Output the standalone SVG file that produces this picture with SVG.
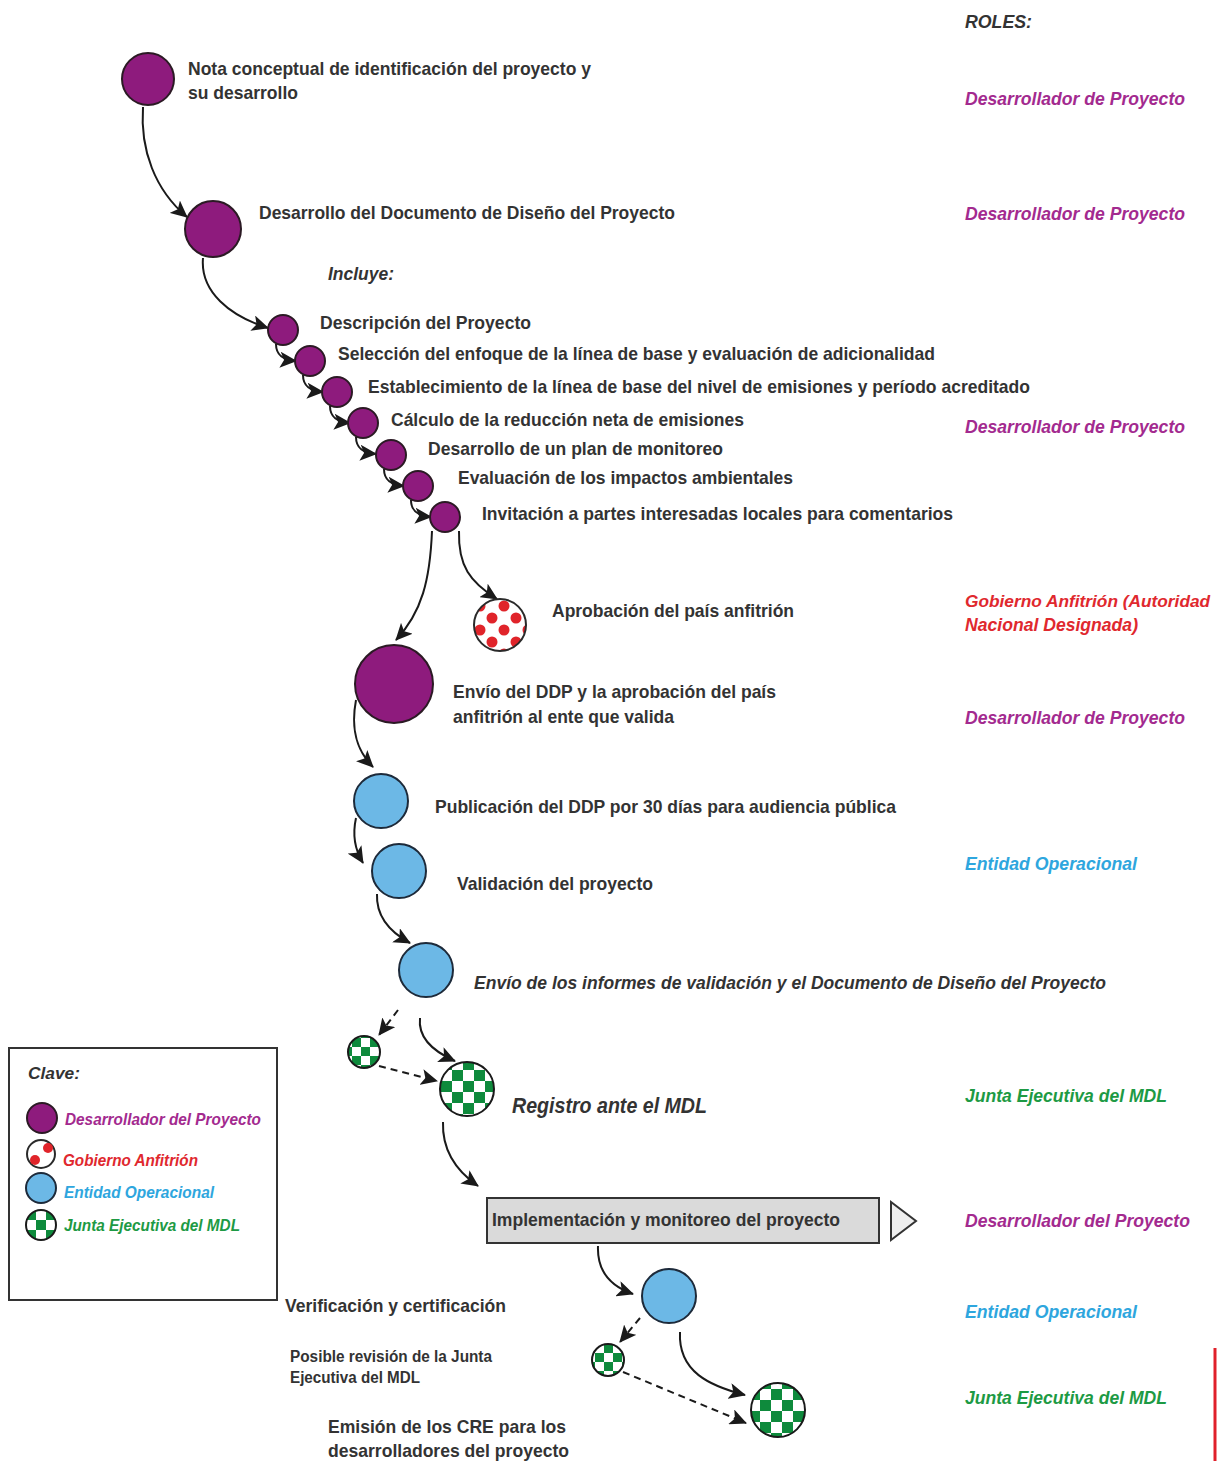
<svg xmlns="http://www.w3.org/2000/svg" width="1217" height="1461" viewBox="0 0 1217 1461">
<style>
.t{font-family:"Liberation Sans",Arial,sans-serif;font-weight:bold;font-size:19px;fill:#333;}
.ti{font-family:"Liberation Sans",Arial,sans-serif;font-weight:bold;font-style:italic;font-size:19px;fill:#333;}
.ts{font-family:"Liberation Sans",Arial,sans-serif;font-weight:bold;font-size:16px;fill:#333;}
.r{font-family:"Liberation Sans",Arial,sans-serif;font-weight:bold;font-style:italic;font-size:19px;}
.lg{font-family:"Liberation Sans",Arial,sans-serif;font-weight:bold;font-style:italic;font-size:17px;}
.pu{fill:#a32a8f;}
.rd{fill:#e0282e;}
.bl{fill:#2ea6de;}
.gr{fill:#1d9a44;}
.cp{fill:#8e1b7d;stroke:#2b1a24;stroke-width:2;}
.cb{fill:#6cb8e6;stroke:#1d2a3a;stroke-width:2;}
.cr{fill:url(#dots);stroke:#2a2a2a;stroke-width:2;}
.cg{fill:url(#check);stroke:#1a1a1a;stroke-width:2;}
.cgs{fill:url(#checks);stroke:#1a1a1a;stroke-width:2;}
.c{fill:none;stroke:#1a1a1a;stroke-width:2;marker-end:url(#ah);}
.d{fill:none;stroke:#1a1a1a;stroke-width:2;stroke-dasharray:7 5;marker-end:url(#ah);}
</style>
<defs>
<marker id="ah" markerUnits="userSpaceOnUse" markerWidth="18" markerHeight="16" refX="16" refY="8" orient="auto">
<path d="M0,0 L17,8 L0,16 L4,8 Z" fill="#1a1a1a"/>
</marker>
<pattern id="dots" patternUnits="userSpaceOnUse" x="474" y="600" width="24" height="24">
<rect width="24" height="24" fill="#fff"/>
<circle cx="6" cy="6" r="5.5" fill="#e0242a"/>
<circle cx="18" cy="18" r="5.5" fill="#e0242a"/>
</pattern>
<pattern id="check" patternUnits="userSpaceOnUse" x="1" y="3" width="22" height="22">
<rect width="22" height="22" fill="#fff"/>
<rect width="11" height="11" fill="#0e8a3c"/>
<rect x="11" y="11" width="11" height="11" fill="#0e8a3c"/>
</pattern>
<pattern id="checks" patternUnits="userSpaceOnUse" x="1" y="3" width="18" height="18">
<rect width="18" height="18" fill="#fff"/>
<rect width="9" height="9" fill="#0e8a3c"/>
<rect x="9" y="9" width="9" height="9" fill="#0e8a3c"/>
</pattern>
<pattern id="checkl" patternUnits="userSpaceOnUse" x="26" y="1210" width="20" height="20">
<rect width="20" height="20" fill="#fff"/>
<rect width="10" height="10" fill="#0e8a3c"/>
<rect x="10" y="10" width="10" height="10" fill="#0e8a3c"/>
</pattern>
</defs>

<g id="connectors">
<path class="c" d="M143,107 C140,150 155,190 187,217"/>
<path class="c" d="M203,258 C200,292 230,316 268,328"/>
<path class="c" d="M276,344 C276,356 284,360 296,361"/>
<path class="c" d="M303,375 C303,387 311,391 323,392"/>
<path class="c" d="M330,406 C330,418 338,422 350,423"/>
<path class="c" d="M356,437 C356,449 364,453 376,454"/>
<path class="c" d="M384,469 C384,481 392,485 404,486"/>
<path class="c" d="M411,500 C411,512 419,516 431,517"/>
<path class="c" d="M432,531 C430,580 422,612 396,640"/>
<path class="c" d="M459,531 C458,566 470,582 497,599"/>
<path class="c" d="M356,700 C350,732 358,752 373,767"/>
<path class="c" d="M356,818 C352,836 355,850 363,863"/>
<path class="c" d="M377,894 C376,916 390,932 410,943"/>
<path class="d" d="M398,1010 L379,1035"/>
<path class="c" d="M420,1018 C418,1036 430,1050 455,1061"/>
<path class="d" d="M379,1066 L437,1081"/>
<path class="c" d="M443,1122 C442,1150 455,1170 478,1186"/>
<path class="c" d="M598,1246 C597,1270 610,1286 633,1294"/>
<path class="d" d="M640,1318 L620,1342"/>
<path class="c" d="M680,1332 C678,1372 710,1386 745,1395"/>
<path class="d" d="M623,1372 L746,1423"/>
</g>

<g id="roles-title"><text class="ti" x="965" y="28" textLength="67" lengthAdjust="spacingAndGlyphs">ROLES:</text></g>

<g id="n1">
<circle class="cp" cx="148" cy="79" r="26"/>
<text class="t" x="188" y="75" textLength="403" lengthAdjust="spacingAndGlyphs">Nota conceptual de identificación del proyecto y</text>
<text class="t" x="188" y="99" textLength="110" lengthAdjust="spacingAndGlyphs">su desarrollo</text>
</g>
<g id="role1"><text class="r pu" x="965" y="105" textLength="220" lengthAdjust="spacingAndGlyphs">Desarrollador de Proyecto</text></g>

<g id="n2">
<circle class="cp" cx="213" cy="229" r="28"/>
<text class="t" x="259" y="219" textLength="416" lengthAdjust="spacingAndGlyphs">Desarrollo del Documento de Diseño del Proyecto</text>
</g>
<g id="role2"><text class="r pu" x="965" y="220" textLength="220" lengthAdjust="spacingAndGlyphs">Desarrollador de Proyecto</text></g>

<g id="incluye"><text class="ti" x="328" y="280" textLength="66" lengthAdjust="spacingAndGlyphs">Incluye:</text></g>

<g id="s1"><circle class="cp" cx="283" cy="330" r="15"/>
<text class="t" x="320" y="329" textLength="211" lengthAdjust="spacingAndGlyphs">Descripción del Proyecto</text></g>
<g id="s2"><circle class="cp" cx="310" cy="361" r="15"/>
<text class="t" x="338" y="360" textLength="597" lengthAdjust="spacingAndGlyphs">Selección del enfoque de la línea de base y evaluación de adicionalidad</text></g>
<g id="s3"><circle class="cp" cx="337" cy="392" r="15"/>
<text class="t" x="368" y="393" textLength="662" lengthAdjust="spacingAndGlyphs">Establecimiento de la línea de base del nivel de emisiones y período acreditado</text></g>
<g id="s4"><circle class="cp" cx="363" cy="423" r="15"/>
<text class="t" x="391" y="426" textLength="353" lengthAdjust="spacingAndGlyphs">Cálculo de la reducción neta de emisiones</text></g>
<g id="s5"><circle class="cp" cx="391" cy="455" r="15"/>
<text class="t" x="428" y="455" textLength="295" lengthAdjust="spacingAndGlyphs">Desarrollo de un plan de monitoreo</text></g>
<g id="s6"><circle class="cp" cx="418" cy="486" r="15"/>
<text class="t" x="458" y="484" textLength="335" lengthAdjust="spacingAndGlyphs">Evaluación de los impactos ambientales</text></g>
<g id="s7"><circle class="cp" cx="445" cy="517" r="15"/>
<text class="t" x="482" y="520" textLength="471" lengthAdjust="spacingAndGlyphs">Invitación a partes interesadas locales para comentarios</text></g>
<g id="role3"><text class="r pu" x="965" y="433" textLength="220" lengthAdjust="spacingAndGlyphs">Desarrollador de Proyecto</text></g>

<g id="n-aprob">
<circle class="cr" cx="500" cy="625" r="26"/>
<text class="t" x="552" y="617" textLength="242" lengthAdjust="spacingAndGlyphs">Aprobación del país anfitrión</text>
</g>
<g id="role4">
<text class="r rd" x="965" y="607" style="font-size:17.3px">Gobierno Anfitrión (Autoridad</text>
<text class="r rd" x="965" y="631" textLength="173" lengthAdjust="spacingAndGlyphs">Nacional Designada)</text>
</g>

<g id="n-envio">
<circle class="cp" cx="394" cy="684" r="39"/>
<text class="t" x="453" y="698" textLength="323" lengthAdjust="spacingAndGlyphs">Envío del DDP y la aprobación del país</text>
<text class="t" x="453" y="723" textLength="221" lengthAdjust="spacingAndGlyphs">anfitrión al ente que valida</text>
</g>
<g id="role5"><text class="r pu" x="965" y="724" textLength="220" lengthAdjust="spacingAndGlyphs">Desarrollador de Proyecto</text></g>

<g id="n-pub">
<circle class="cb" cx="381" cy="801" r="27"/>
<text class="t" x="435" y="813" textLength="461" lengthAdjust="spacingAndGlyphs">Publicación del DDP por 30 días para audiencia pública</text>
</g>
<g id="n-val">
<circle class="cb" cx="399" cy="871" r="27"/>
<text class="t" x="457" y="890" textLength="196" lengthAdjust="spacingAndGlyphs">Validación del proyecto</text>
</g>
<g id="role6"><text class="r bl" x="965" y="870" textLength="172" lengthAdjust="spacingAndGlyphs">Entidad Operacional</text></g>
<g id="n-inf">
<circle class="cb" cx="426" cy="970" r="27"/>
<text class="ti" x="474" y="989" textLength="632" lengthAdjust="spacingAndGlyphs">Envío de los informes de validación y el Documento de Diseño del Proyecto</text>
</g>

<g id="n-rev1"><circle class="cgs" cx="364" cy="1052" r="16"/></g>
<g id="n-reg">
<circle class="cg" cx="467" cy="1089" r="27"/>
<text class="ti" x="512" y="1113" style="font-size:22px" textLength="195" lengthAdjust="spacingAndGlyphs">Registro ante el MDL</text>
</g>
<g id="role7"><text class="r gr" x="965" y="1102" textLength="202" lengthAdjust="spacingAndGlyphs">Junta Ejecutiva del MDL</text></g>

<g id="n-impl">
<rect x="487" y="1198" width="392" height="45" fill="#dadada" stroke="#333" stroke-width="2"/>
<text class="t" x="492" y="1226" textLength="348" lengthAdjust="spacingAndGlyphs">Implementación y monitoreo del proyecto</text>
<polygon points="891,1202 891,1240 916,1221" fill="#efefef" stroke="#333" stroke-width="2"/>
</g>
<g id="role8"><text class="r pu" x="965" y="1227" textLength="225" lengthAdjust="spacingAndGlyphs">Desarrollador del Proyecto</text></g>

<g id="n-ver">
<circle class="cb" cx="669" cy="1296" r="27"/>
<text class="t" x="285" y="1312" textLength="221" lengthAdjust="spacingAndGlyphs">Verificación y certificación</text>
</g>
<g id="role9"><text class="r bl" x="965" y="1318" textLength="172" lengthAdjust="spacingAndGlyphs">Entidad Operacional</text></g>

<g id="n-rev2">
<circle class="cgs" cx="608" cy="1360" r="16"/>
<text class="ts" x="290" y="1362" textLength="202" lengthAdjust="spacingAndGlyphs">Posible revisión de la Junta</text>
<text class="ts" x="290" y="1383" textLength="130" lengthAdjust="spacingAndGlyphs">Ejecutiva del MDL</text>
</g>
<g id="n-cre">
<circle class="cg" cx="778" cy="1410" r="27"/>
<text class="t" x="328" y="1433" textLength="238" lengthAdjust="spacingAndGlyphs">Emisión de los CRE para los</text>
<text class="t" x="328" y="1457" textLength="241" lengthAdjust="spacingAndGlyphs">desarrolladores del proyecto</text>
</g>
<g id="role10"><text class="r gr" x="965" y="1404" textLength="202" lengthAdjust="spacingAndGlyphs">Junta Ejecutiva del MDL</text></g>

<g id="legend">
<rect x="9" y="1048" width="268" height="252" fill="#fff" stroke="#333" stroke-width="2"/>
<text class="lg" x="28" y="1079" fill="#333" textLength="52" lengthAdjust="spacingAndGlyphs">Clave:</text>
<circle class="cp" cx="42" cy="1118" r="15"/>
<text class="lg pu" x="65" y="1125" textLength="196" lengthAdjust="spacingAndGlyphs">Desarrollador del Proyecto</text>
<circle cx="41" cy="1154" r="14" fill="#fff" stroke="#2a2a2a" stroke-width="2"/>
<circle cx="48" cy="1148" r="5" fill="#e0242a"/>
<circle cx="35" cy="1160" r="5" fill="#e0242a"/>
<text class="lg rd" x="63" y="1166" textLength="135" lengthAdjust="spacingAndGlyphs">Gobierno Anfitrión</text>
<circle class="cb" cx="41" cy="1188" r="15"/>
<text class="lg bl" x="64" y="1198" textLength="150" lengthAdjust="spacingAndGlyphs">Entidad Operacional</text>
<circle cx="41" cy="1225" r="15" fill="url(#checkl)" stroke="#1a1a1a" stroke-width="2"/>
<text class="lg gr" x="64" y="1231" textLength="176" lengthAdjust="spacingAndGlyphs">Junta Ejecutiva del MDL</text>
</g>

<line x1="1215" y1="1348" x2="1215" y2="1461" stroke="#e0202a" stroke-width="3"/>
</svg>
